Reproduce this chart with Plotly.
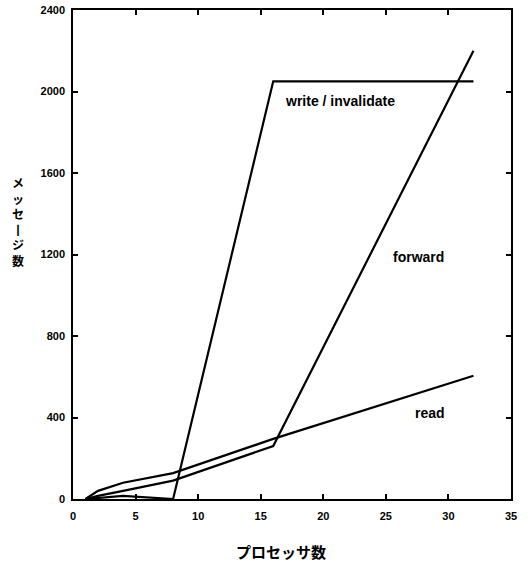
import plotly.graph_objects as go

processors = [1, 2, 4, 8, 16, 32]
write_invalidate = [0, 5, 15, 0, 2050, 2050]
forward = [0, 15, 40, 90, 260, 2200]
read = [0, 40, 80, 127, 295, 605]

series_labels = ["write / invalidate", "forward", "read"]
label_pos_x = [21.3, 27.6, 28.5]
label_pos_y = [1953, 1188, 422]

x_title = "プロセッサ数"
y_title_chars = ["メ", "ッ", "セ", "丨", "ジ", "数"]

fig = go.Figure()
for ys, name in zip([write_invalidate, forward, read], series_labels):
    fig.add_trace(go.Scatter(x=processors, y=ys, mode="lines", name=name,
                             line=dict(color="black", width=2.2), showlegend=False))

for t, lx, ly in zip(series_labels, label_pos_x, label_pos_y):
    fig.add_annotation(x=lx, y=ly, text=t, showarrow=False,
                       font=dict(family="Liberation Sans, Arial", size=14, color="black", weight="bold"))

fig.add_annotation(xref="paper", yref="paper", x=-0.1256, y=0.567,
                   text="<br>".join(y_title_chars),
                   showarrow=False, xanchor="center", yanchor="middle",
                   font=dict(family="Noto Sans CJK JP", size=12, color="black", weight="bold"))

fig.add_annotation(xref="paper", yref="paper", x=0.474, y=-0.108,
                   text=x_title, showarrow=False, xanchor="center", yanchor="middle",
                   font=dict(family="Noto Sans CJK JP", size=15, color="black", weight="bold"))

axis_common = dict(showline=True, linecolor="black", linewidth=1.5, mirror="ticks",
                   ticks="inside", ticklen=5, tickwidth=1.5, tickcolor="black",
                   showgrid=False, zeroline=False, automargin=False,
                   tickfont=dict(family="Liberation Sans, Arial", size=11, color="black", weight="bold"))

fig.update_xaxes(range=[0, 35], dtick=5, tick0=0, ticklabelstandoff=6, **axis_common)
fig.update_yaxes(range=[0, 2400], dtick=400, tick0=0, ticklabelstandoff=4, **axis_common)

fig.update_layout(width=528, height=566, plot_bgcolor="white", paper_bgcolor="white",
                  margin=dict(l=73, r=17, t=10, b=67, autoexpand=False))

fig.write_html("out.html", config={"displayModeBar": False},
               post_script="document.body.style.margin='0';document.body.style.overflow='hidden';")
